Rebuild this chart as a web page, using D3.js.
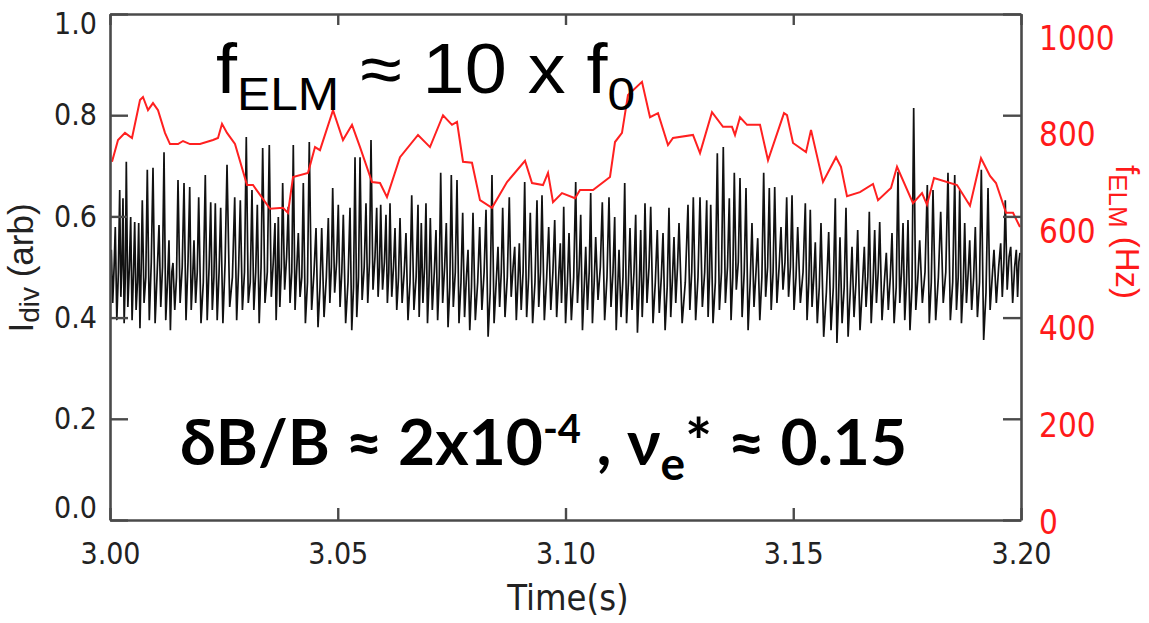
<!DOCTYPE html>
<html>
<head>
<meta charset="utf-8">
<script src="https://cdn.jsdelivr.net/npm/d3@7"></script>
<style>
body { margin: 0; background: #fff; }
svg { display: block; }
</style>
</head>
<body>
<svg id="chart" width="1149" height="623"></svg>
<script>
// divertor current: one entry per ELM (time of spike, spike top, floor after it)
var elmTime = [
  3.00029, 3.00116, 3.00213, 3.00285, 3.00358, 3.00454, 3.00542, 3.00630, 3.00709, 3.00819,
  3.00944, 3.01076, 3.01186, 3.01295, 3.01383, 3.01493, 3.01625, 3.01750, 3.01844, 3.01947,
  3.02092, 3.02211, 3.02312, 3.02430, 3.02569, 3.02738, 3.02861, 3.02992, 3.03117, 3.03234,
  3.03352, 3.03497, 3.03622, 3.03695, 3.03791, 3.03914, 3.04024, 3.04134, 3.04244, 3.04375,
  3.04523, 3.04648, 3.04793, 3.04889, 3.05012, 3.05122, 3.05269, 3.05379, 3.05489, 3.05620,
  3.05730, 3.05855, 3.05943, 3.06059, 3.06147, 3.06257, 3.06367, 3.06498, 3.06624,
  3.06762, 3.06834, 3.06937, 3.07032, 3.07157, 3.07260, 3.07383, 3.07493, 3.07618, 3.07743,
  3.07860, 3.07969, 3.08116, 3.08255, 3.08386, 3.08518, 3.08621, 3.08766, 3.08885, 3.08986,
  3.09104, 3.09227, 3.09374, 3.09484, 3.09631, 3.09763, 3.09886, 3.09961,
  3.10077, 3.10224, 3.10334, 3.10444, 3.10553, 3.10663, 3.10808, 3.10955, 3.11080, 3.11175,
  3.11300, 3.11416, 3.11541, 3.11651, 3.11745, 3.11871, 3.12015, 3.12141, 3.12272, 3.12382,
  3.12492, 3.12689, 3.12806, 3.12953, 3.13100, 3.13188, 3.13333,
  3.13464, 3.13596, 3.13706, 3.13831, 3.13963, 3.14094, 3.14220, 3.14351, 3.14474, 3.14593,
  3.14731, 3.14856, 3.14973, 3.15098, 3.15265, 3.15374, 3.15484, 3.15609, 3.15778, 3.15923,
  3.16026, 3.16158, 3.16290, 3.16415, 3.16560, 3.16670,
  3.16788, 3.16898, 3.17043, 3.17168, 3.17300, 3.17410, 3.17519, 3.17644, 3.17776, 3.17943,
  3.18068, 3.18237, 3.18397, 3.18545, 3.18654, 3.18764, 3.18874, 3.18997, 3.19129, 3.19276,
  3.19407, 3.19554, 3.19655, 3.19774, 3.19897, 3.19978
];
var elmPeak = [
  0.534, 0.579, 0.652, 0.636, 0.708, 0.599, 0.589, 0.587, 0.632, 0.692,
  0.696, 0.583, 0.727, 0.553, 0.508, 0.672, 0.666, 0.658, 0.553, 0.638,
  0.682, 0.628, 0.626, 0.617, 0.702, 0.638, 0.632, 0.757, 0.652, 0.623,
  0.735, 0.741, 0.587, 0.599, 0.666, 0.619, 0.741, 0.567, 0.666, 0.747,
  0.577, 0.577, 0.597, 0.656, 0.623, 0.603, 0.617, 0.717, 0.717, 0.626,
  0.751, 0.617, 0.623, 0.603, 0.626, 0.577, 0.597, 0.567, 0.642,
  0.623, 0.587, 0.626, 0.597, 0.573, 0.686, 0.587, 0.682, 0.672, 0.607,
  0.534, 0.607, 0.579, 0.613, 0.682, 0.540, 0.617, 0.638, 0.540, 0.547,
  0.668, 0.607, 0.632, 0.642, 0.579, 0.593, 0.547, 0.619,
  0.567, 0.668, 0.603, 0.540, 0.646, 0.559, 0.628, 0.638, 0.599, 0.534,
  0.666, 0.577, 0.603, 0.573, 0.626, 0.619, 0.573, 0.567, 0.617, 0.559,
  0.587, 0.623, 0.638, 0.638, 0.632, 0.623, 0.725,
  0.737, 0.636, 0.686, 0.676, 0.656, 0.587, 0.557, 0.686, 0.656, 0.658,
  0.579, 0.638, 0.642, 0.579, 0.626, 0.613, 0.549, 0.587, 0.569, 0.636,
  0.559, 0.617, 0.540, 0.573, 0.540, 0.609,
  0.573, 0.589, 0.528, 0.567, 0.688, 0.587, 0.593, 0.814, 0.553, 0.662,
  0.652, 0.609, 0.686, 0.682, 0.652, 0.587, 0.553, 0.579, 0.692, 0.656,
  0.534, 0.547, 0.632, 0.540, 0.534, 0.528
];
var elmFloor = [
  0.429, 0.395, 0.441, 0.389, 0.421, 0.395, 0.415, 0.379, 0.429, 0.395,
  0.389, 0.421, 0.395, 0.375, 0.415, 0.429, 0.395, 0.415, 0.429, 0.389,
  0.395, 0.415, 0.395, 0.389, 0.421, 0.395, 0.415, 0.429, 0.415, 0.389,
  0.429, 0.441, 0.395, 0.421, 0.455, 0.429, 0.415, 0.441, 0.389, 0.415,
  0.381, 0.401, 0.429, 0.449, 0.421, 0.389, 0.375, 0.401, 0.435, 0.429,
  0.455, 0.441, 0.455, 0.429, 0.441, 0.415, 0.429, 0.395, 0.415,
  0.401, 0.429, 0.389, 0.415, 0.395, 0.429, 0.381, 0.421, 0.389, 0.401,
  0.375, 0.395, 0.415, 0.362, 0.389, 0.421, 0.401, 0.441, 0.395, 0.415,
  0.401, 0.389, 0.421, 0.395, 0.415, 0.401, 0.429, 0.389,
  0.395, 0.429, 0.375, 0.415, 0.389, 0.435, 0.395, 0.421, 0.375, 0.401,
  0.389, 0.415, 0.370, 0.401, 0.429, 0.389, 0.409, 0.375, 0.401, 0.429,
  0.389, 0.415, 0.395, 0.421, 0.401, 0.389, 0.415,
  0.429, 0.395, 0.455, 0.401, 0.375, 0.421, 0.395, 0.441, 0.415, 0.429,
  0.455, 0.441, 0.415, 0.429, 0.395, 0.421, 0.389, 0.362, 0.375, 0.350,
  0.389, 0.362, 0.401, 0.375, 0.421, 0.389,
  0.429, 0.395, 0.415, 0.389, 0.429, 0.395, 0.375, 0.415, 0.429, 0.389,
  0.395, 0.429, 0.395, 0.415, 0.389, 0.429, 0.415, 0.401, 0.356, 0.415,
  0.429, 0.441, 0.455, 0.429, 0.441, 0.455
];
// level of the dense band between two ELMs (top of the dark band)
var elmBand = [
  0.50, 0.49, 0.51, 0.48, 0.50, 0.49, 0.47, 0.50, 0.48, 0.51,
  0.49, 0.50, 0.47, 0.49, 0.48, 0.50, 0.51, 0.48, 0.49, 0.47,
  0.50, 0.48, 0.49, 0.51, 0.48, 0.50, 0.49, 0.47, 0.49, 0.50,
  0.49, 0.51, 0.48, 0.50, 0.52, 0.49, 0.50, 0.48, 0.47, 0.49,
  0.46, 0.48, 0.50, 0.51, 0.49, 0.47, 0.46, 0.48, 0.50, 0.51,
  0.52, 0.50, 0.51, 0.49, 0.50, 0.48, 0.49, 0.47, 0.48,
  0.48, 0.50, 0.47, 0.49, 0.48, 0.50, 0.46, 0.49, 0.47, 0.48,
  0.46, 0.47, 0.49, 0.45, 0.47, 0.49, 0.48, 0.50, 0.47, 0.49,
  0.48, 0.47, 0.49, 0.48, 0.49, 0.48, 0.50, 0.47,
  0.48, 0.50, 0.46, 0.49, 0.47, 0.50, 0.48, 0.49, 0.46, 0.48,
  0.47, 0.49, 0.46, 0.48, 0.50, 0.47, 0.48, 0.46, 0.48, 0.50,
  0.47, 0.49, 0.48, 0.49, 0.48, 0.47, 0.49,
  0.50, 0.48, 0.51, 0.49, 0.47, 0.49, 0.48, 0.50, 0.49, 0.50,
  0.51, 0.50, 0.48, 0.49, 0.47, 0.48, 0.46, 0.45, 0.46, 0.44,
  0.46, 0.45, 0.47, 0.46, 0.48, 0.47,
  0.49, 0.47, 0.48, 0.46, 0.49, 0.47, 0.46, 0.48, 0.49, 0.47,
  0.48, 0.49, 0.47, 0.48, 0.46, 0.49, 0.48, 0.47, 0.45, 0.48,
  0.50, 0.51, 0.52, 0.50, 0.51
];

// ELM frequency (red trace, right axis)
var fTime = [
  3.00044, 3.00176, 3.00329, 3.00483, 3.00659, 3.00724, 3.00834, 3.00944, 3.01054, 3.01207,
  3.01317, 3.01493, 3.01603, 3.01756, 3.01976, 3.02261, 3.02371, 3.02459, 3.02569, 3.02744,
  3.03008, 3.03139, 3.03513, 3.03798, 3.03908, 3.04018, 3.04347, 3.04501, 3.04610, 3.04896,
  3.05115, 3.05313, 3.05489, 3.05752, 3.05928, 3.06081, 3.06367, 3.06762, 3.07025, 3.07311,
  3.07508, 3.07618, 3.07750, 3.07947, 3.08123, 3.08386, 3.08716, 3.09111, 3.09265, 3.09506,
  3.09616, 3.09726, 3.09923, 3.10209, 3.10318, 3.10604, 3.10977, 3.11087, 3.11240, 3.11372,
  3.11679, 3.11855, 3.12031, 3.12250, 3.12360, 3.12799, 3.12953, 3.13216, 3.13458, 3.13655,
  3.13721, 3.13831, 3.13985, 3.14270, 3.14446, 3.14797, 3.14863, 3.14995, 3.15280, 3.15390,
  3.15653, 3.15939, 3.16048, 3.16180, 3.16465, 3.16751, 3.16861, 3.17146, 3.17278, 3.17629,
  3.17827, 3.17936, 3.18090, 3.18595, 3.18880, 3.19122, 3.19320, 3.19451, 3.19671, 3.19825,
  3.19978
];
var fHz = [
  708, 751, 765, 755, 830, 836, 810, 824, 810, 765,
  743, 743, 749, 743, 743, 751, 755, 783, 765, 743,
  662, 662, 615, 617, 607, 678, 686, 737, 731, 810,
  751, 781, 737, 668, 666, 638, 717, 761, 737, 800,
  781, 787, 708, 706, 632, 617, 668, 710, 666, 662,
  686, 628, 646, 636, 652, 652, 678, 747, 765, 840,
  866, 796, 804, 741, 755, 761, 725, 806, 777, 777,
  761, 796, 781, 781, 711, 804, 800, 745, 727, 771,
  668, 717, 698, 640, 648, 664, 632, 656, 698, 626,
  646, 623, 676, 662, 621, 715, 680, 666, 607, 607,
  579
];

var timeTicks = [3.00, 3.05, 3.10, 3.15, 3.20];
var idivTicks = [0.0, 0.2, 0.4, 0.6, 0.8, 1.0];
var hzTicks = [0, 200, 400, 600, 800, 1000];

function draw_chart(id) {
    "use strict";
    var left = 110, right = 1021, top = 14, bottom = 520;
    var narrow = "'Liberation Sans Narrow', 'DejaVu Sans Condensed', 'Liberation Sans', sans-serif";
    var svg = d3.select(id);

    var x = d3.scaleLinear().domain([3.0, 3.2]).range([left, right]);
    var y = d3.scaleLinear().domain([0, 1]).range([bottom, top]);
    var yHz = d3.scaleLinear().domain([0, 1000]).range([bottom, top]);
    // the red labels sit a bit lower than their ticks in the original
    var yHzLabel = d3.scaleLinear().domain([0, 1000]).range([522, 38]);

    svg.append("clipPath").attr("id", "plotclip")
        .append("rect")
        .attr("x", left).attr("y", top)
        .attr("width", right - left).attr("height", bottom - top);

    // spike trace: ELM top, drop to the floor, back up to the band, next ELM
    var trace = [];
    elmTime.forEach(function(t, i) {
        trace.push([t, elmPeak[i]]);
        if (i < elmTime.length - 1) {
            var g = elmTime[i + 1] - t;
            trace.push([t + 0.35 * g, elmFloor[i]]);
            trace.push([t + 0.7 * g, elmBand[i]]);
        }
    });

    var line = d3.line()
        .x(function(d) { return x(d[0]); })
        .y(function(d) { return y(d[1]); });

    svg.append("path")
        .datum(trace)
        .attr("clip-path", "url(#plotclip)")
        .attr("fill", "none")
        .attr("stroke", "#111")
        .attr("stroke-width", 1.7)
        .attr("d", line);

    var hzLine = d3.line()
        .x(function(d, i) { return x(fTime[i]); })
        .y(function(d) { return yHz(d); });

    svg.append("path")
        .datum(fHz)
        .attr("clip-path", "url(#plotclip)")
        .attr("fill", "none")
        .attr("stroke", "#ff2020")
        .attr("stroke-width", 2)
        .attr("d", hzLine);

    // axes (ticks point inward)
    var axisColor = "#4a4a4a";
    var gB = svg.append("g").attr("transform", "translate(0," + bottom + ")")
        .call(d3.axisBottom(x).tickValues(timeTicks).tickSizeInner(-12).tickSizeOuter(0)
            .tickPadding(23).tickFormat(d3.format(".2f")));
    var gT = svg.append("g").attr("transform", "translate(0," + top + ")")
        .call(d3.axisTop(x).tickValues(timeTicks).tickSizeInner(-11).tickSizeOuter(0).tickFormat(""));
    var gL = svg.append("g").attr("transform", "translate(" + left + ",0)")
        .call(d3.axisLeft(y).tickValues(idivTicks).tickSizeInner(-18).tickSizeOuter(0)
            .tickPadding(13).tickFormat(d3.format(".1f")));
    var gR = svg.append("g").attr("transform", "translate(" + right + ",0)")
        .call(d3.axisRight(yHz).tickValues(hzTicks).tickSizeInner(-18).tickSizeOuter(0).tickFormat(""));

    [gB, gT, gL, gR].forEach(function(g) {
        g.select(".domain").attr("stroke", axisColor).attr("stroke-width", 2.6);
        g.selectAll(".tick line").attr("stroke", axisColor).attr("stroke-width", 2.4);
        g.selectAll("text").attr("fill", "#222").style("font-family", narrow);
    });
    gB.selectAll("text").style("font-size", "30px");
    gL.selectAll("text").style("font-size", "30px")
        .attr("dy", function(d) {
            // end labels are pulled inside the frame
            if (d === 1.0) { return "0.65em"; }
            if (d === 0.0) { return "-0.1em"; }
            return "0.32em";
        });

    svg.append("g").selectAll("text")
        .data(hzTicks)
        .enter()
        .append("text")
        .attr("x", 1039)
        .attr("y", function(d) { return yHzLabel(d); })
        .attr("dy", "0.35em")
        .attr("fill", "#ff1a1a")
        .style("font-family", narrow)
        .style("font-size", "33px")
        .text(function(d) { return d; });

    // axis titles
    svg.append("text")
        .attr("x", 568).attr("y", 610)
        .attr("text-anchor", "middle")
        .attr("fill", "#222")
        .style("font-family", narrow)
        .style("font-size", "36px")
        .text("Time(s)");

    var yt = svg.append("text")
        .attr("transform", "translate(33,268) rotate(-90)")
        .attr("text-anchor", "middle")
        .attr("fill", "#222")
        .style("font-family", "'Liberation Sans', Arial, sans-serif")
        .style("font-size", "35px");
    yt.append("tspan").text("I");
    yt.append("tspan").attr("dy", 6).style("font-size", "28px").text("div");
    yt.append("tspan").attr("dy", -6).text(" (arb)");

    var rt = svg.append("text")
        .attr("transform", "translate(1116,232) rotate(90)")
        .attr("text-anchor", "middle")
        .attr("fill", "#ff1a1a")
        .style("font-family", "'Liberation Sans', Arial, sans-serif")
        .style("font-size", "33px");
    rt.append("tspan").text("f");
    rt.append("tspan").attr("dy", 7).style("font-size", "26px").text("ELM");
    rt.append("tspan").attr("dy", -7).text(" (Hz)");

    // annotations
    var a1 = svg.append("text")
        .attr("transform", "translate(216,93) scale(1.08,1)")
        .attr("fill", "#000")
        .style("font-family", "'Liberation Sans', Arial, sans-serif")
        .style("font-size", "70px");
    a1.append("tspan").text("f");
    a1.append("tspan").attr("dy", 17).style("font-size", "46px").text("ELM");
    a1.append("tspan").attr("dy", -17).text(" \u2248 10 x f");
    a1.append("tspan").attr("dy", 17).style("font-size", "46px").text("0");

    var a2 = svg.append("text")
        .attr("x", 180).attr("y", 465)
        .attr("fill", "#000")
        .style("font-family", "Lato, 'Liberation Sans', sans-serif")
        .style("font-weight", "bold")
        .style("font-size", "64px");
    a2.append("tspan").text("\u03b4B/B \u2248 2x10");
    a2.append("tspan").attr("dy", -22).style("font-size", "40px").text("-4");
    a2.append("tspan").attr("dy", 22).text(" , \u03bd");
    a2.append("tspan").attr("dy", 15).style("font-size", "46px").text("e");
    a2.append("tspan").attr("dy", -15).text("* \u2248 0.15");
}

draw_chart("#chart");
</script>
</body>
</html>
